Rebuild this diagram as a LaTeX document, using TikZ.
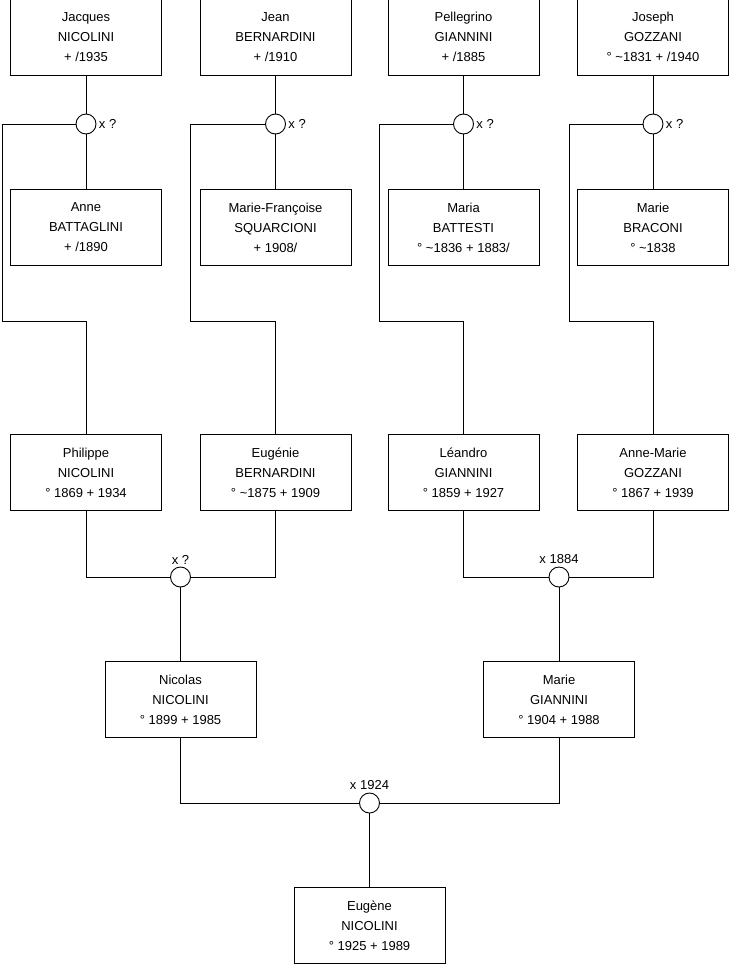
\documentclass[tikz,border=0pt]{standalone}
\usepackage{fontspec}
\setmainfont{Liberation Sans}
\begin{document}
\begin{tikzpicture}[x=1pt,y=-1pt,line width=0.9pt,
  person/.style={draw, rectangle, minimum width=151pt, minimum height=76pt, inner sep=0pt, align=center, font=\fontsize{13}{20}\selectfont},
  wedding/.style={draw, circle, fill=white, minimum size=20pt, inner sep=0pt},
  note/.style={font=\fontsize{13}{14}\selectfont, inner sep=1pt, label distance=1pt}]
\useasboundingbox (0,0) rectangle (740,975);
% great-grandparents
\node[person] (f1) at (86,37) {Jacques\\NICOLINI\\+ /1935};
\node[person] (f2) at (275.5,37) {Jean\\BERNARDINI\\+ /1910};
\node[person] (f3) at (463.5,37) {Pellegrino\\GIANNINI\\+ /1885};
\node[person] (f4) at (653,37) {Joseph\\GOZZANI\\° \textasciitilde1831 + /1940};
\node[person] (w1) at (86,227.5) {Anne\\BATTAGLINI\\+ /1890};
\node[person] (w2) at (275.5,227.5) {Marie-Françoise\\SQUARCIONI\\+ 1908/};
\node[person] (w3) at (463.5,227.5) {Maria\\BATTESTI\\° \textasciitilde1836 + 1883/};
\node[person] (w4) at (653,227.5) {Marie\\BRACONI\\° \textasciitilde1838};
\node[wedding, label={[note]right:x ?}] (m1) at (86,124) {};
\node[wedding, label={[note]right:x ?}] (m2) at (275.5,124) {};
\node[wedding, label={[note]right:x ?}] (m3) at (463.5,124) {};
\node[wedding, label={[note]right:x ?}] (m4) at (653,124) {};
% grandparents
\node[person] (p1) at (86,472.5) {Philippe\\NICOLINI\\° 1869 + 1934};
\node[person] (p2) at (275.5,472.5) {Eugénie\\BERNARDINI\\° \textasciitilde1875 + 1909};
\node[person] (p3) at (463.5,472.5) {Léandro\\GIANNINI\\° 1859 + 1927};
\node[person] (p4) at (653,472.5) {Anne-Marie\\GOZZANI\\° 1867 + 1939};
\node[wedding, label={[note]above:x ?}] (m5) at (180.5,577) {};
\node[wedding, label={[note]above:x 1884}] (m6) at (559,577) {};
% parents
\node[person] (c1) at (180.5,699.5) {Nicolas\\NICOLINI\\° 1899 + 1985};
\node[person] (c2) at (559,699.5) {Marie\\GIANNINI\\° 1904 + 1988};
\node[wedding, label={[note]above:x 1924}] (m7) at (369.5,803) {};
\node[person] (e) at (369.5,925.5) {Eugène\\NICOLINI\\° 1925 + 1989};
\coordinate (k1) at (2,321);
\coordinate (k2) at (190,321);
\coordinate (k3) at (379,321);
\coordinate (k4) at (569,321);
\draw (f1) -- (m1) -- (w1);
\draw (f2) -- (m2) -- (w2);
\draw (f3) -- (m3) -- (w3);
\draw (f4) -- (m4) -- (w4);
\draw (m1) -| (k1) -| (p1.north);
\draw (m2) -| (k2) -| (p2.north);
\draw (m3) -| (k3) -| (p3.north);
\draw (m4) -| (k4) -| (p4.north);
\draw (p1.south) |- (m5) -| (p2.south);
\draw (p3.south) |- (m6) -| (p4.south);
\draw (m5) -- (c1);
\draw (m6) -- (c2);
\draw (c1.south) |- (m7) -| (c2.south);
\draw (m7) -- (e);
\end{tikzpicture}
\end{document}
